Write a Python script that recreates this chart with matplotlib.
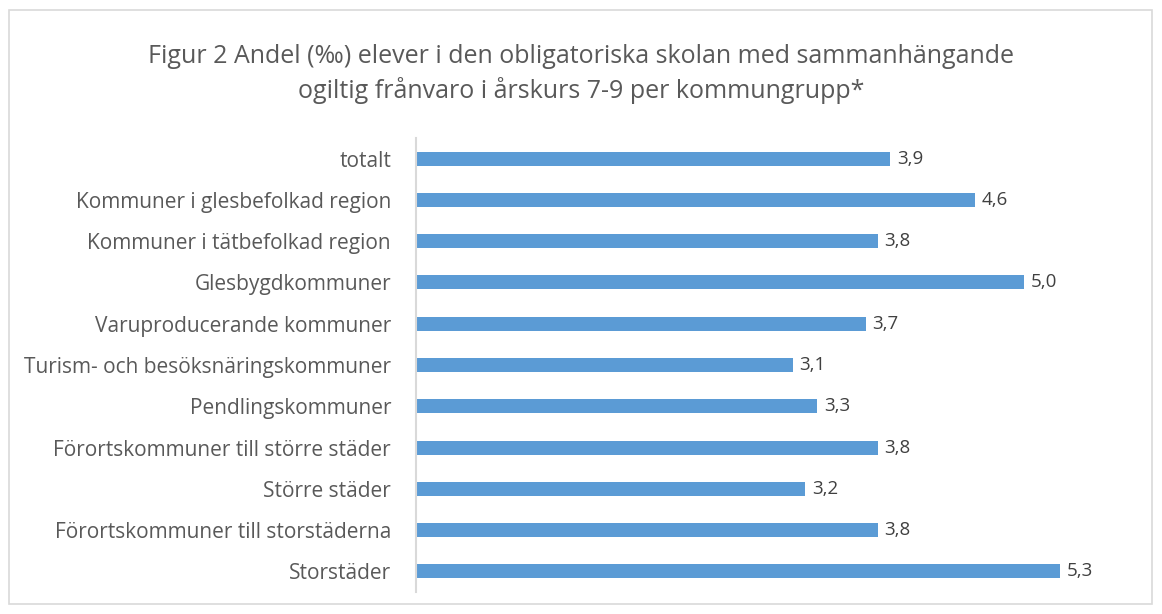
import matplotlib.pyplot as plt
from matplotlib.patches import Rectangle

categories = [
    "totalt",
    "Kommuner i glesbefolkad region",
    "Kommuner i tätbefolkad region",
    "Glesbygdkommuner",
    "Varuproducerande kommuner",
    "Turism- och besöksnäringskommuner",
    "Pendlingskommuner",
    "Förortskommuner till större städer",
    "Större städer",
    "Förortskommuner till storstäderna",
    "Storstäder",
]
values = [3.9, 4.6, 3.8, 5.0, 3.7, 3.1, 3.3, 3.8, 3.2, 3.8, 5.3]
title = ("Figur 2 Andel (\u2030) elever i den obligatoriska skolan med sammanhängande\n"
         "ogiltig frånvaro i årskurs 7-9 per kommungrupp*")

plt.rcParams['font.family'] = ['Open Sans', 'DejaVu Sans']
grey = "#595959"

fig = plt.figure(figsize=(11.62, 6.14), dpi=100)
fig.patches.append(Rectangle((9 / 1162, 10 / 614), 1143 / 1162, 594 / 614,
                             transform=fig.transFigure, fill=False,
                             edgecolor="#d9d9d9", linewidth=1.2))

ax = fig.add_axes([416 / 1162, 22 / 614, 729 / 1162, 454 / 614])
y = list(range(len(categories)))
ax.barh(y, values, height=0.34, color="#5b9bd5")
ax.set_ylim(len(categories) - 0.5, -0.5)
ax.set_xlim(0, 6)
ax.set_yticks(y)
ax.set_yticklabels(categories, fontsize=15, color=grey)
ax.tick_params(axis="y", length=0, pad=18)
ax.set_xticks([])
for s in ["top", "right", "bottom"]:
    ax.spines[s].set_visible(False)
ax.spines["left"].set_color("#d9d9d9")
ax.spines["left"].set_linewidth(1.5)

for yi, v in zip(y, values):
    ax.annotate(f"{v:.1f}".replace(".", ","), (v, yi), xytext=(5, 0),
                textcoords="offset points", va="center", ha="left",
                fontsize=13.5, color="#404040")

fig.text(0.5, 1 - 74 / 614, title, ha="center", va="center", fontsize=18,
         color=grey, linespacing=1.42)

fig.savefig("out.png", dpi=100)
